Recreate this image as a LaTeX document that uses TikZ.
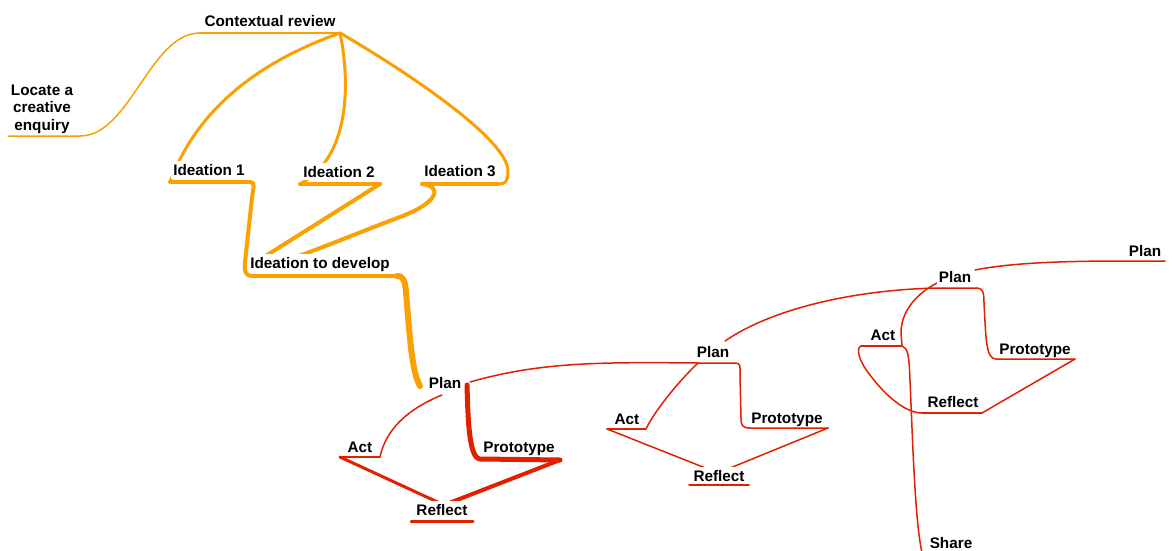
\documentclass[tikz,border=0pt]{standalone}
\usepackage{fontspec}
\setmainfont{Liberation Sans}
\usetikzlibrary{backgrounds}
\definecolor{mapOrange}{RGB}{250,160,0}
\definecolor{mapRed}{RGB}{225,32,0}
\tikzset{
  topicText/.style={font=\bfseries\fontsize{15.3}{17.5}\selectfont, fill=white, inner xsep=2pt, inner ysep=3pt},
  topic/.style={topicText, text depth=0pt, anchor=base},
  oLine/.style={draw=mapOrange, line cap=round, line join=round},
  rLine/.style={draw=mapRed, line cap=round, line join=round, line width=1.5pt},
}
\begin{document}
\begin{tikzpicture}[x=1pt,y=-1pt]
\useasboundingbox (0,0) rectangle (1175,551);
% topics
\node[topicText,align=center,inner sep=1pt] (locate) at (42,109) {Locate a\\creative\\enquiry};
\node[topic] (ctx) at (270,27) {Contextual review};
\node[topic] (ideaA) at (209,175.5) {Ideation 1};
\node[topic] (ideaB) at (339,177) {Ideation 2};
\node[topic] (ideaC) at (460,176) {Ideation 3};
\node[topic] (develop) at (320,268) {Ideation to develop};
\node[topic] (planA) at (445,388) {Plan};
\node[topic] (actA) at (360,452) {Act};
\node[topic] (protoA) at (519,452) {Prototype};
\node[topic] (reflA) at (442,515) {Reflect};
\node[topic] (planB) at (713,357) {Plan};
\node[topic] (actB) at (627,424) {Act};
\node[topic] (protoB) at (787,423) {Prototype};
\node[topic] (reflB) at (719,481) {Reflect};
\node[topic] (planC) at (955,282) {Plan};
\node[topic] (actC) at (883,340) {Act};
\node[topic] (protoC) at (1035,354) {Prototype};
\node[topic] (reflC) at (953,407) {Reflect};
\node[topic] (share) at (951,548) {Share};
\node[topic] (planD) at (1145,256) {Plan};
% underline ends
\coordinate (locate-l) at (8,136);   \coordinate (locate-r) at (80,136);
\coordinate (ctx-l) at (200,33);     \coordinate (ctx-r) at (340,33);
\coordinate (ideaA-l) at (170,182);  \coordinate (ideaA-r) at (250,182);
\coordinate (ideaB-l) at (300,184);  \coordinate (ideaB-r) at (380,184);
\coordinate (ideaC-l) at (422,184);  \coordinate (ideaC-r) at (498,184);
\coordinate (develop-l) at (252,276); \coordinate (develop-r) at (397,276);
\coordinate (develop-inB) at (256,262); \coordinate (develop-inC) at (285,261);
\coordinate (planA-in) at (420,386); \coordinate (planA-a) at (442,395);
\coordinate (planA-p) at (467,385);  \coordinate (planA-o) at (470,382);
\coordinate (actA-l) at (340,457);   \coordinate (actA-r) at (380,457);
\coordinate (protoA-l) at (480,459); \coordinate (protoA-r) at (560,460);
\coordinate (reflA-l) at (411,521);  \coordinate (reflA-r) at (473,521);
\coordinate (reflA-in) at (444,505);
\coordinate (planB-l) at (698,363);  \coordinate (planB-r) at (735,363);
\coordinate (planB-u) at (725,341);
\coordinate (actB-l) at (607,429);   \coordinate (actB-r) at (646,429);
\coordinate (protoB-l) at (750,428); \coordinate (protoB-r) at (828,428);
\coordinate (reflB-l) at (689,485);  \coordinate (reflB-r) at (749,485);
\coordinate (reflB-in) at (718,473);
\coordinate (planC-l) at (937,288);  \coordinate (planC-r) at (977,288);
\coordinate (planC-a) at (937,283);  \coordinate (planC-o) at (975,270);
\coordinate (actC-l) at (861,346);   \coordinate (actC-r) at (902,346);
\coordinate (protoC-l) at (996,359); \coordinate (protoC-r) at (1075,359);
\coordinate (reflC-l) at (922,413);  \coordinate (reflC-r) at (982,413);
\coordinate (share-l) at (922,553);
\coordinate (planD-l) at (1125,261); \coordinate (planD-r) at (1165,261);
\begin{scope}[on background layer]
% orange branches
\draw[oLine,line width=1.5pt] (locate-l) -- (locate-r) .. controls (130,136) and (150,33) .. (ctx-l);
\draw[oLine,line width=2.5pt] (ctx-l) -- (ctx-r);
\draw[oLine,line width=3pt] (ctx-r) .. controls (250,65) and (195,115) .. (ideaA-l);
\draw[oLine,line width=3pt] (ctx-r) .. controls (348,70) and (355,155) .. (ideaB-l);
\draw[oLine,line width=3pt] (ctx-r) .. controls (370,50) and (510,135) .. (508,172) .. controls (508,182) and (505,184) .. (ideaC-r);
\foreach \n in {ideaA,ideaB,ideaC}
  \draw[oLine,line width=4pt] (\n-l) -- (\n-r);
\draw[oLine,line width=4pt] (ideaA-r) .. controls (256,182) and (253,188) .. (252,198) -- (245,262) .. controls (244,272) and (246,276) .. (develop-l);
\draw[oLine,line width=4pt] (ideaB-r) -- (develop-inB);
\draw[oLine,line width=4pt] (ideaC-l) .. controls (442,186) and (440,202) .. (400,217) .. controls (360,232) and (330,245) .. (develop-inC);
\draw[oLine,line width=4.5pt] (develop-l) -- (develop-r);
\draw[oLine,line width=6pt] (develop-r) .. controls (404,276) and (405,282) .. (406,292) .. controls (410,340) and (412,372) .. (planA-in);
% red branches
\draw[rLine] (planA-a) .. controls (410,408) and (386,428) .. (actA-r);
\draw[rLine,line width=2pt] (actA-l) -- (actA-r);
\draw[rLine,line width=5pt] (planA-p) .. controls (468,420) and (469,458) .. (protoA-l) -- (protoA-r);
\draw[rLine,line width=4pt] (protoA-r) -- (reflA-in);
\draw[rLine,line width=3pt] (actA-l) -- (reflA-in);
\draw[rLine,line width=3pt] (reflA-l) -- (reflA-r);
\draw[rLine] (planA-o) .. controls (540,362) and (600,362) .. (planB-l) -- (planB-r);
\draw[rLine] (planB-l) .. controls (680,380) and (655,410) .. (actB-r);
\draw[rLine] (actB-l) -- (actB-r);
\draw[rLine] (planB-r) .. controls (741,363) and (740,366) .. (740,375) -- (741,418) .. controls (741,426) and (743,428) .. (protoB-l) -- (protoB-r);
\draw[rLine] (protoB-r) -- (reflB-in);
\draw[rLine] (actB-l) -- (reflB-in);
\draw[rLine] (reflB-l) -- (reflB-r);
\draw[rLine] (planB-u) .. controls (770,310) and (850,290) .. (planC-l) -- (planC-r);
\draw[rLine] (planC-a) .. controls (912,296) and (901,315) .. (901,333) -- (actC-r);
\draw[rLine] (actC-l) -- (actC-r);
\draw[rLine] (planC-r) .. controls (983,288) and (984,293) .. (984,303) .. controls (986,340) and (986,359) .. (protoC-l) -- (protoC-r);
\draw[rLine] (protoC-r) -- (reflC-r);
\draw[rLine] (reflC-l) -- (reflC-r);
\draw[rLine] (actC-l) .. controls (856,348) and (858,360) .. (870,375) .. controls (885,395) and (905,413) .. (reflC-l);
\draw[rLine] (actC-r) .. controls (908,348) and (909,355) .. (910,380) .. controls (913,450) and (915,520) .. (share-l);
\draw[rLine] (planC-o) .. controls (1010,263) and (1060,261) .. (planD-l) -- (planD-r);
\end{scope}
\end{tikzpicture}
\end{document}
